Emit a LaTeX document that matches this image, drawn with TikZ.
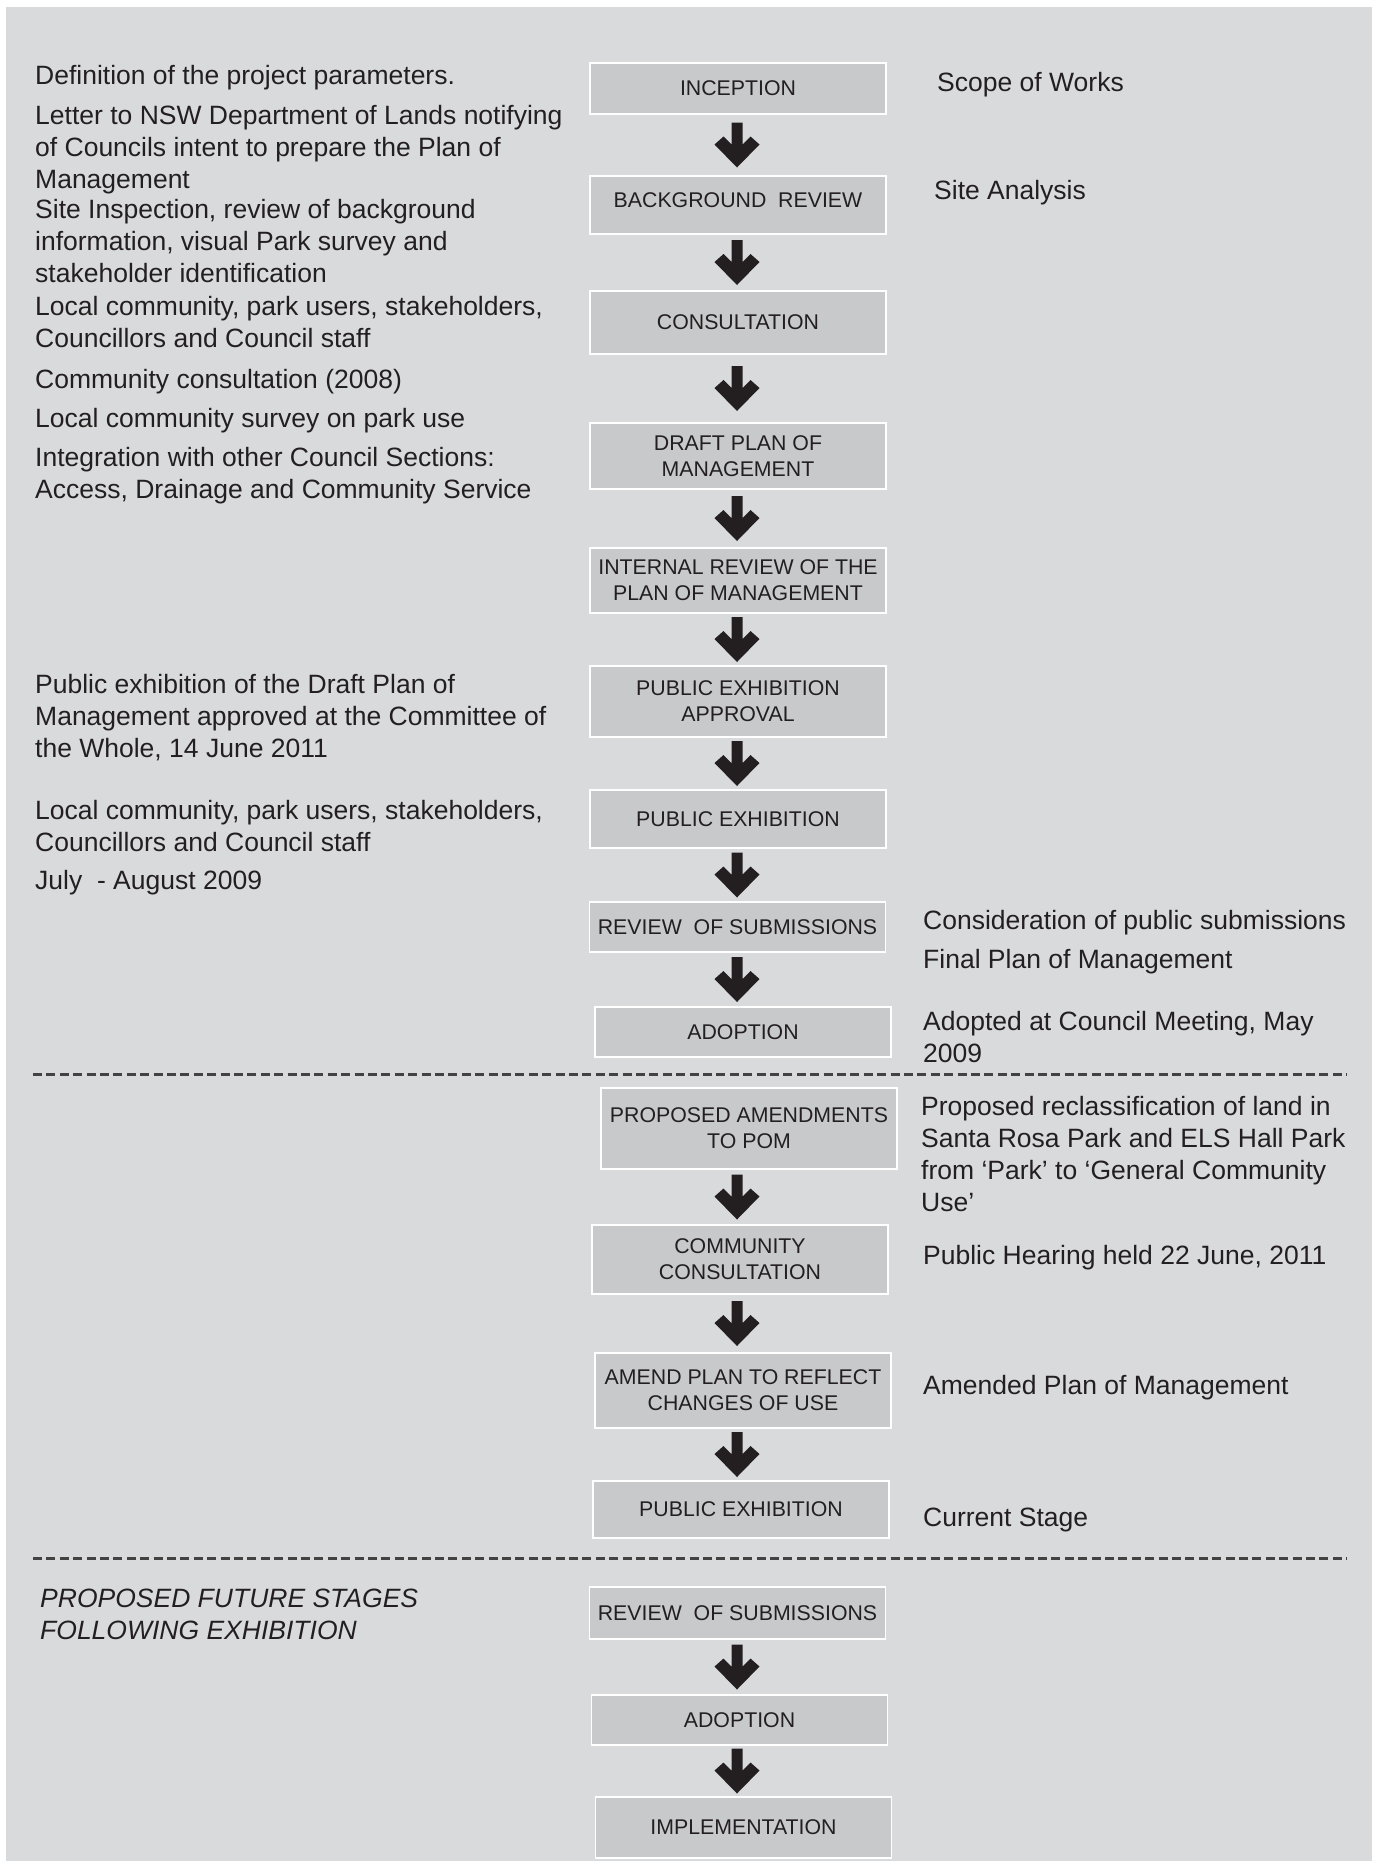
\documentclass[tikz,border=0pt]{standalone}
\usepackage{fontspec}
\setmainfont{Liberation Sans}
\usepackage{xcolor}
\definecolor{panel}{HTML}{D9DADC}
\definecolor{stepfill}{HTML}{C8C9CB}
\definecolor{ink}{HTML}{231F20}
\usetikzlibrary{
  calc
}

\tikzset{flowarrow/.pic={
  \fill[ink] (-5.5,-22.5) -- (5.5,-22.5) -- (5.5,-0.5) -- (13.5,-8.5)
    -- (22.5,-0.5) -- (0,22.5) -- (-22.5,-0.5) -- (-13.5,-8.5)
    -- (-5.5,-0.5) -- cycle;}}
\newcommand{\flowstep}[2]{%
  \path ($(#1.south)!0.5!(#2.north)$) coordinate (gap);
  \pic at (axis |- gap) {flowarrow};}

\begin{document}
\begin{tikzpicture}[
  x=1pt, y=-1pt,
  stage/.style = {shape=rectangle, draw=white, line width=1.5pt,
    fill=stepfill, text=ink, align=center, inner sep=2pt,
    minimum width=296pt,
    font=\fontsize{21.3}{26}\selectfont},
  note/.style = {anchor=north west, align=left, inner sep=0pt, text=ink,
    font=\fontsize{26.5}{32}\selectfont},
  divider/.style = {ink!85, line width=3pt, dash pattern=on 9pt off 4.4pt}]
  \useasboundingbox (0,0) rectangle (1378,1861);
  \fill[white] (0,0) rectangle (1378,1861);
  \fill[panel] (6,7) rectangle (1372,1861);
  \coordinate (axis) at (737,0);

  % stages up to adoption
  \node[stage, minimum height=51pt] (inception) at (738,88.5) {INCEPTION};
  \node[stage, minimum height=58pt, text depth=10pt] (bgreview) at (738,205) {BACKGROUND~~REVIEW};
  \node[stage, minimum height=63pt] (consult) at (738,322.5) {CONSULTATION};
  \node[stage, minimum height=66pt] (draftpom) at (738,456) {DRAFT PLAN OF\\MANAGEMENT};
  \node[stage, minimum height=65pt] (intreview) at (738,580.5) {INTERNAL REVIEW OF THE\\PLAN OF MANAGEMENT};
  \node[stage, minimum height=71pt] (pexapproval) at (738,701.5) {PUBLIC EXHIBITION\\APPROVAL};
  \node[stage, minimum height=58pt] (pexhib) at (738,819) {PUBLIC EXHIBITION};
  \node[stage, minimum height=50pt] (revsub) at (737.5,927) {REVIEW~~OF SUBMISSIONS};
  \node[stage, minimum height=50pt] (adopt) at (743,1032) {ADOPTION};

  % amendments
  \node[stage, minimum height=81pt] (propamend) at (749,1128.5) {PROPOSED AMENDMENTS\\TO POM};
  \node[stage, minimum height=69pt] (commcons) at (740,1259.5) {COMMUNITY\\CONSULTATION};
  \node[stage, minimum height=75pt] (amendplan) at (743,1390.5) {AMEND PLAN TO REFLECT\\CHANGES OF USE};
  \node[stage, minimum height=57pt] (pexhibtwo) at (741,1509.5) {PUBLIC EXHIBITION};

  % future stages
  \node[stage, minimum height=52pt] (revsubtwo) at (737.5,1613) {REVIEW~~OF SUBMISSIONS};
  \node[stage, minimum height=50pt] (adopttwo) at (739.5,1720) {ADOPTION};
  \node[stage, minimum height=61pt] (implement) at (743.5,1827.5) {IMPLEMENTATION};

  \flowstep{inception}{bgreview}
  \flowstep{bgreview}{consult}
  \flowstep{consult}{draftpom}
  \flowstep{draftpom}{intreview}
  \flowstep{intreview}{pexapproval}
  \flowstep{pexapproval}{pexhib}
  \flowstep{pexhib}{revsub}
  \flowstep{revsub}{adopt}
  \flowstep{propamend}{commcons}
  \flowstep{commcons}{amendplan}
  \flowstep{amendplan}{pexhibtwo}
  \flowstep{revsubtwo}{adopttwo}
  \flowstep{adopttwo}{implement}

  \draw[divider] (33,1074) -- (1347,1074);
  \draw[divider] (33,1558) -- (1347,1558);

  % left column
  \node[note] (defnote) at (35,65.3) {Definition of the project parameters.};
  \node[note] (letternote) at (35,105.3) {Letter to NSW Department of Lands notifying\\of Councils intent to prepare the Plan of\\Management};
  \node[note] (inspnote) at (35,199.3) {Site Inspection, review of background\\information, visual Park survey and\\stakeholder identification};
  \node[note] (usersnote) at (35,296.3) {Local community, park users, stakeholders,\\Councillors and Council staff};
  \node[note] (consnote) at (35,369.3) {Community consultation (2008)};
  \node[note] (surveynote) at (35,408.3) {Local community survey on park use};
  \node[note] (integnote) at (35,447.3) {Integration with other Council Sections:\\Access, Drainage and Community Service};
  \node[note] (pexnote) at (35,674.3) {Public exhibition of the Draft Plan of\\Management approved at the Committee of\\the Whole, 14 June 2011};
  \node[note] (userstwonote) at (35,800.3) {Local community, park users, stakeholders,\\Councillors and Council staff};
  \node[note] (datesnote) at (35,870.3) {July~~- August 2009};
  \node[note, font=\fontsize{26.5}{32}\selectfont\itshape] (futurenote) at (40,1588.3) {PROPOSED FUTURE STAGES\\FOLLOWING EXHIBITION};

  % right column
  \node[note] (scopenote) at (937,72.3) {Scope of Works};
  \node[note] (sitenote) at (934,180.3) {Site Analysis};
  \node[note] (considnote) at (923,910.3) {Consideration of public submissions};
  \node[note] (finalnote) at (923,949.3) {Final Plan of Management};
  \node[note] (adoptnote) at (923,1011.3) {Adopted at Council Meeting, May\\2009};
  \node[note] (reclassnote) at (921,1096.3) {Proposed reclassification of land in\\Santa Rosa Park and ELS Hall Park\\from ‘Park’ to ‘General Community\\Use’};
  \node[note] (hearingnote) at (923,1245.3) {Public Hearing held 22 June, 2011};
  \node[note] (amendnote) at (923,1375.3) {Amended Plan of Management};
  \node[note] (currentnote) at (923,1507.3) {Current Stage};
\end{tikzpicture}
\end{document}
